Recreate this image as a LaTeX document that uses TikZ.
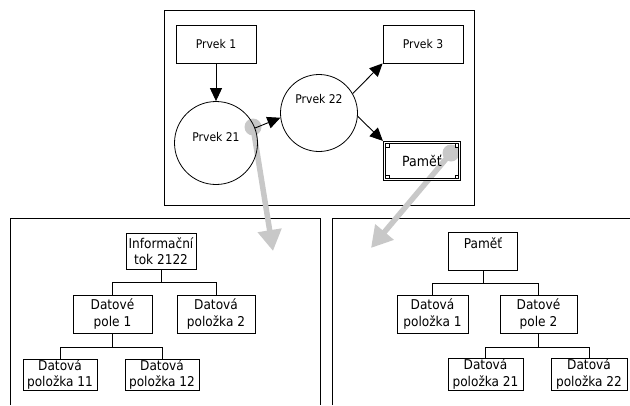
\documentclass[tikz,border=0pt]{standalone}
\usepackage{fontspec}
\setmainfont{DejaVu Sans Condensed}
\usetikzlibrary{arrows.meta}
\definecolor{gr}{RGB}{200,200,200}
\begin{document}
\begin{tikzpicture}[x=1pt,y=-1pt,
  box/.style={draw, line width=0.8pt, inner sep=1pt, font=\fontsize{12}{14}\selectfont},
  tbox/.style={draw, line width=0.8pt, inner sep=0.5pt, align=center, font=\fontsize{13.5}{16.5}\selectfont},
  circ/.style={draw, circle, line width=0.8pt, inner sep=0pt},
  clabel/.style={font=\fontsize{12}{14}\selectfont},
  arr/.style={line width=0.9pt, -{Triangle[length=13pt,width=12pt]}},
  link/.style={line width=0.8pt},
  frame/.style={line width=0.8pt},
  notch/.style={line width=0.6pt},
  gdot/.style={circle, fill=gr, inner sep=0pt, minimum size=17pt},
  garr/.style={draw=gr, line width=5.5pt, -{Triangle[length=21pt,width=23pt,fill=gr]}}
]
\useasboundingbox (0,0) rectangle (630,405);

% frames
\draw[frame] (164,10) rectangle (474,205);
\draw[frame] (10,405) -- (10,218) -- (320,218) -- (320,405);
\draw[frame] (332,405) -- (332,218) -- (630,218);

% gray pointers
\node[gdot] (g1) at (253,127) {};
\node[gdot] (g2) at (451,153) {};
\coordinate (t1) at (273,251);
\coordinate (t2) at (371,248);
\draw[garr] (g1.center) -- (t1);
\draw[garr] (g2.center) -- (t2);

% top diagram
\node[box, minimum width=80pt, minimum height=38pt] (p1) at (216,44) {Prvek 1};
\node[box, minimum width=80pt, minimum height=38pt] (p3) at (423,44) {Prvek 3};
\node[circ, minimum size=83pt, label={[clabel,yshift=6pt]center:Prvek 21}] (c21) at (216,143) {};
\node[circ, minimum size=77pt, label={[clabel,yshift=14pt]center:Prvek 22}] (c22) at (319,113) {};
\node[box, minimum width=75pt, minimum height=37pt, double, double distance=1.4pt, font=\fontsize{14}{16}\selectfont] (mem) at (422,161) {Paměť};
\draw[notch] ([shift={(1.4,1.4)}]mem.north west) rectangle ++(3.5,3.5);
\draw[notch] ([shift={(-1.4,1.4)}]mem.north east) rectangle ++(-3.5,3.5);
\draw[notch] ([shift={(1.4,-1.4)}]mem.south west) rectangle ++(3.5,-3.5);
\draw[notch] ([shift={(-1.4,-1.4)}]mem.south east) rectangle ++(-3.5,-3.5);

\draw[arr] (p1.south) -- (c21.north);
\draw[arr] (c21.21) -- (c22.187);
\draw[arr] (c22.30) -- (p3.south west);
\draw[arr] (c22.-5) -- ([xshift=-1.2pt,yshift=1.2pt]mem.north west);

% left tree
\node[tbox, minimum width=70pt, minimum height=36pt] (inf) at (161,251) {Informační\\tok 2122};
\node[tbox, minimum width=79pt, minimum height=38pt] (dp1) at (112.5,314) {Datové\\pole 1};
\node[tbox, minimum width=78pt, minimum height=38pt] (dp2) at (216,314) {Datová\\položka 2};
\node[tbox, minimum width=74pt, minimum height=31pt] (d11) at (60,374.5) {Datová\\položka 11};
\node[tbox, minimum width=74pt, minimum height=31pt] (d12) at (162,374.5) {Datová\\položka 12};
\draw[link] (inf.south) -- ++(0,13) -| (dp1.north);
\draw[link] (inf.south) -- ++(0,13) -| (dp2.north);
\draw[link] (dp1.south) -- ++(0,14) -| (d11.north);
\draw[link] (dp1.south) -- ++(0,14) -| (d12.north);

% right tree
\node[tbox, minimum width=69pt, minimum height=38pt] (pm) at (483,251) {Paměť\\\mbox{}};
\node[tbox, minimum width=71pt, minimum height=38pt] (dpl1) at (432.5,314) {Datová\\položka 1};
\node[tbox, minimum width=77pt, minimum height=38pt] (dp2r) at (538.5,314) {Datové\\pole 2};
\node[tbox, minimum width=75pt, minimum height=32pt] (d21) at (485.5,374) {Datová\\položka 21};
\node[tbox, minimum width=76pt, minimum height=32pt] (d22) at (589,374) {Datová\\položka 22};
\draw[link] (pm.south) -- ++(0,13) -| (dpl1.north);
\draw[link] (pm.south) -- ++(0,13) -| (dp2r.north);
\draw[link] (dp2r.south) -- ++(0,14) -| (d21.north);
\draw[link] (dp2r.south) -- ++(0,14) -| (d22.north);
\end{tikzpicture}
\end{document}
